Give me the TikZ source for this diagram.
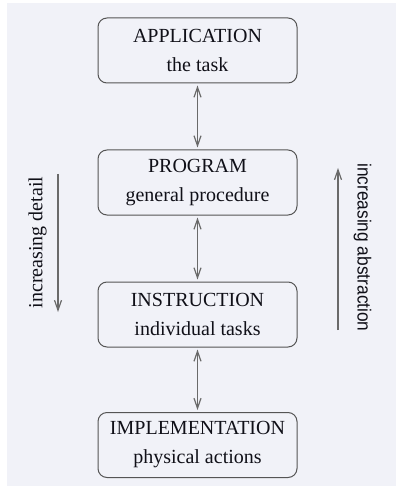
\documentclass[tikz,border=0pt]{standalone}
\usepackage{fontspec}
\setmainfont{Liberation Serif}
\newfontfamily\labelserif{Liberation Serif}
\newfontfamily\labelsans{Liberation Sans}
\usetikzlibrary{arrows.meta}
\definecolor{bgc}{HTML}{F1F2F8}
\definecolor{boxgray}{HTML}{555555}
\definecolor{arrgray}{HTML}{6A6A6A}
\definecolor{txt}{HTML}{101018}
\tikzset{
  box/.style={draw=boxgray, line width=1pt, rounded corners=9pt,
    minimum width=199pt, minimum height=65pt, inner sep=0pt, align=center,
    text=txt, font=\labelserif\fontsize{20}{29}\selectfont},
  arr/.style={draw=arrgray, line width=1.4pt,
    arrows={-Straight Barb[length=10pt,width=7pt,line width=1.2pt]}},
  arrboth/.style={draw=arrgray, line width=1.4pt,
    arrows={Straight Barb[length=10pt,width=7pt,line width=1.2pt]-Straight Barb[length=10pt,width=7pt,line width=1.2pt]},
    shorten <=2pt, shorten >=2pt},
  sidelabel/.style={inner sep=0pt, text=txt}
}
\begin{document}
\begin{tikzpicture}[x=1pt,y=1pt]
\useasboundingbox (0,0) rectangle (403,-486);
\fill[bgc] (7,-3) rectangle (396,-486);
\node[box] (app) at (197.5,-50.5) {APPLICATION\\the task};
\node[box] (prog) at (197.5,-182.5) {PROGRAM\\general procedure};
\node[box] (instr) at (197.5,-314.5) {INSTRUCTION\\individual tasks};
\node[box] (impl) at (197.5,-445) {IMPLEMENTATION\\physical actions};
\draw[arrboth] (app) -- (prog);
\draw[arrboth] (prog) -- (instr);
\draw[arrboth] (instr) -- (impl);
\coordinate (dtop) at (58,-174);
\coordinate (dbot) at (58,-312);
\draw[arr] (dtop) -- (dbot);
\node[sidelabel, rotate=90, font=\labelserif\fontsize{20}{24}\selectfont] (detail) at (37.5,-242.5) {increasing detail};
\coordinate (abot) at (338,-330);
\coordinate (atop) at (338,-168);
\draw[arr] (abot) -- (atop);
\node[sidelabel, rotate=-90, font=\labelsans\fontsize{19}{23}\selectfont] (abstr) at (362.5,-247.5) {\scalebox{0.91}[1]{increasing abstraction}};
\end{tikzpicture}
\end{document}
